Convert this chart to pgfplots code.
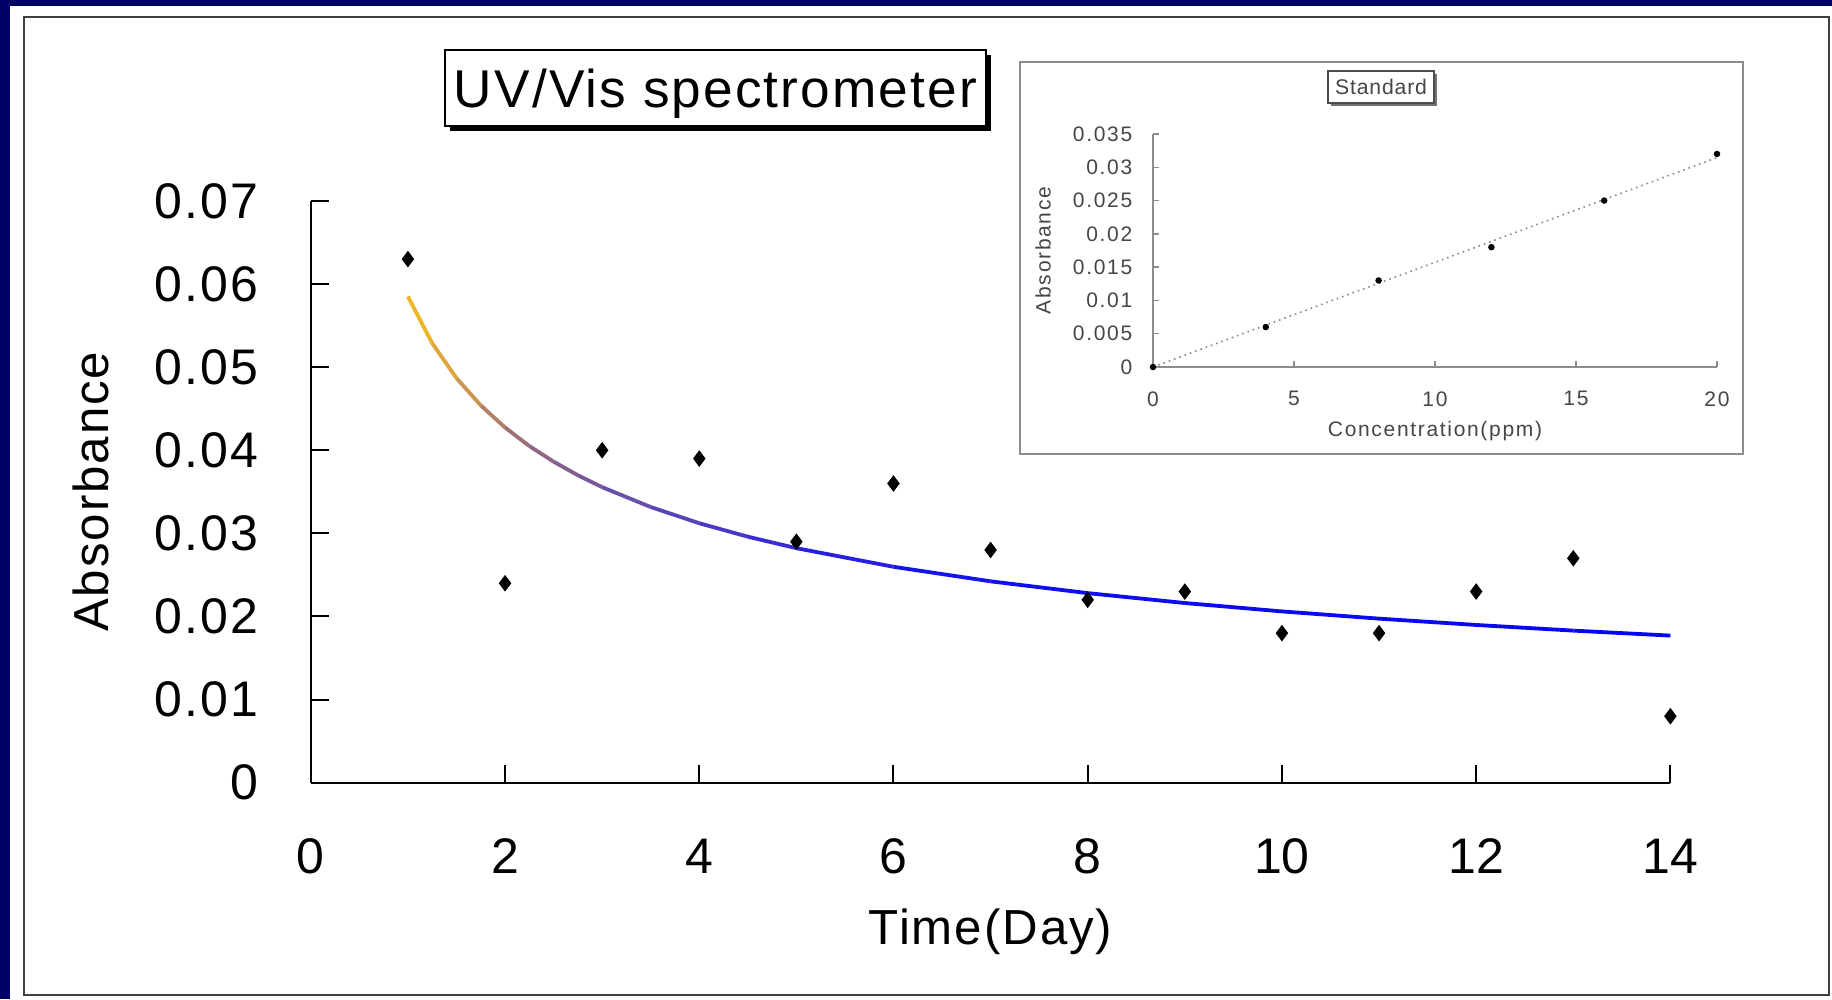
\documentclass[border=0pt]{standalone}
\usepackage{fontspec}
\setmainfont{Liberation Sans}
\newfontfamily\gulim[LetterSpace=4]{Liberation Sans}
\newfontfamily\gulimwide[LetterSpace=8]{Liberation Sans}
\usepackage{pgfplots}
\usepackage{pgfplotstable}
\pgfplotsset{compat=1.18}

\definecolor{slidenavy}{RGB}{0,0,102}
\definecolor{insettext}{RGB}{70,70,70}
\definecolor{insetline}{RGB}{140,140,140}

% daily absorbance readings
\pgfplotstableread{
day absorbance
1  0.063
2  0.024
3  0.040
4  0.039
5  0.029
6  0.036
7  0.028
8  0.022
9  0.023
10 0.018
11 0.018
12 0.023
13 0.027
14 0.008
}\decaydata

% power-law trend line through the readings
\pgfplotstableread{
day fit
1     0.05850
1.25  0.05288
1.5   0.04868
1.75  0.04540
2     0.04274
2.25  0.04051
2.5   0.03863
2.75  0.03699
3     0.03556
3.5   0.03317
4     0.03122
4.5   0.02960
5     0.02822
6     0.02598
7     0.02423
8     0.02281
9     0.02162
10    0.02061
11    0.01974
12    0.01898
13    0.01830
14    0.01770
}\fitdata

% calibration standards
\pgfplotstableread{
conc absorbance
0  0.000
4  0.006
8  0.013
12 0.018
16 0.025
20 0.032
}\standarddata

% slide grid: one unit = 0.25pt, origin top left, y pointing down
\tikzset{slide/.style={shift={(0pt,249.75pt)}, x=0.25pt, y=-0.25pt}}

\begin{document}
\begin{tikzpicture}
\useasboundingbox (0pt,0pt) rectangle (458pt,249.75pt);
\begin{scope}[slide]
% slide background and panel
\fill[slidenavy] (0,0) rectangle (1832,999);
\fill[white] (10,6) rectangle (1832,999);
\draw[line width=0.55pt, black!75] (24,17) rectangle (1829,995);

% title box with drop shadow
\fill[black] (450,55) rectangle (991,131);
\filldraw[fill=white, draw=black, line width=0.5pt] (445,50) rectangle (986,126);
\node[font=\gulim\fontsize{13.3pt}{16pt}\selectfont, inner sep=0pt] at (715.5,94) {UV/Vis spectrometer};

% calibration inset frame and caption
\draw[line width=0.4pt, insetline] (1020,62) rectangle (1743,454);
\fill[black!55] (1331,74) rectangle (1437,106);
\filldraw[fill=white, draw=black!70, line width=0.35pt] (1328,71) rectangle (1434,103);
\node[font=\gulim\fontsize{5.3pt}{6pt}\selectfont, text=insettext, inner sep=0pt] at (1381,87) {Standard};
\end{scope}

% main chart
\begin{axis}[
  at={(77.7pt,54.075pt)}, anchor=south west,
  scale only axis, width=339.9pt, height=145.45pt,
  xmin=0, xmax=14, ymin=0, ymax=0.07,
  axis lines=left,
  axis line style={-, line width=0.5pt, black},
  xtick={0,2,4,6,8,10,12,14},
  xticklabels={0,2,4,6,8,10,12,14},
  ytick={0,0.01,0.02,0.03,0.04,0.05,0.06,0.07},
  yticklabels={0,0.01,0.02,0.03,0.04,0.05,0.06,0.07},
  scaled y ticks=false,
  tick align=inside,
  major tick length=4.5pt,
  tick style={black, line width=0.5pt},
  /pgf/number format/assume math mode=true,
  ticklabel style={inner sep=0pt},
  xticklabel style={font=\fontsize{12.5pt}{14pt}\selectfont, yshift=-13.8pt},
  yticklabel style={font=\gulim\fontsize{12.5pt}{14pt}\selectfont, xshift=-12.95pt},
  xlabel={Time(Day)},
  ylabel={Absorbance},
  label style={font=\gulim\fontsize{12.3pt}{14pt}\selectfont, inner sep=0pt},
  xlabel style={at={(axis description cs:0.5,-0.2566)}, anchor=center},
  ylabel style={at={(axis description cs:-0.1617,0.5)}, anchor=center},
  colormap={trend}{rgb255(0cm)=(244,188,28); rgb255(0.5cm)=(215,160,70);
    rgb255(1cm)=(165,118,110); rgb255(1.5cm)=(135,98,140); rgb255(2cm)=(115,85,160);
    rgb255(3cm)=(80,62,190); rgb255(4cm)=(50,40,215); rgb255(5cm)=(30,25,232);
    rgb255(6cm)=(15,15,240); rgb255(13cm)=(5,5,240)},
  point meta min=1, point meta max=14,
  clip=false,
]
\addplot[mesh, point meta=x, line width=0.95pt, line join=round] table[x=day, y=fit] {\fitdata};
\addplot[only marks, mark=diamond*, mark size=1.75pt, black] table[x=day, y=absorbance] {\decaydata};
\end{axis}

% calibration inset
\begin{axis}[
  at={(288.25pt,158pt)}, anchor=south west,
  scale only axis, width=141pt, height=58.25pt,
  xmin=0, xmax=20, ymin=0, ymax=0.035,
  axis lines=left,
  axis line style={-, line width=0.35pt, insetline},
  xtick={0,5,10,15,20},
  xticklabels={0,5,10,15,20},
  ytick={0,0.005,0.01,0.015,0.02,0.025,0.03,0.035},
  yticklabels={0,0.005,0.01,0.015,0.02,0.025,0.03,0.035},
  scaled y ticks=false,
  tick align=inside,
  major tick length=1.6pt,
  tick style={insetline, line width=0.35pt},
  ticklabel style={font=\gulimwide\fontsize{5.25pt}{6pt}\selectfont, text=insettext, inner sep=0pt},
  xticklabel style={yshift=-5.9pt},
  yticklabel style={xshift=-5pt},
  xlabel={Concentration(ppm)},
  ylabel={Absorbance},
  label style={font=\gulimwide\fontsize{5.25pt}{6pt}\selectfont, text=insettext, inner sep=0pt},
  xlabel style={at={(axis description cs:0.5,-0.2747)}, anchor=center},
  ylabel style={at={(axis description cs:-0.195,0.5)}, anchor=center},
  clip=false,
]
\addplot[densely dotted, black!45, line width=0.4pt] coordinates {(0,0) (20,0.03145)};
\addplot[only marks, mark=*, mark size=0.6pt, black] table[x=conc, y=absorbance] {\standarddata};
\end{axis}
\end{tikzpicture}
\end{document}
